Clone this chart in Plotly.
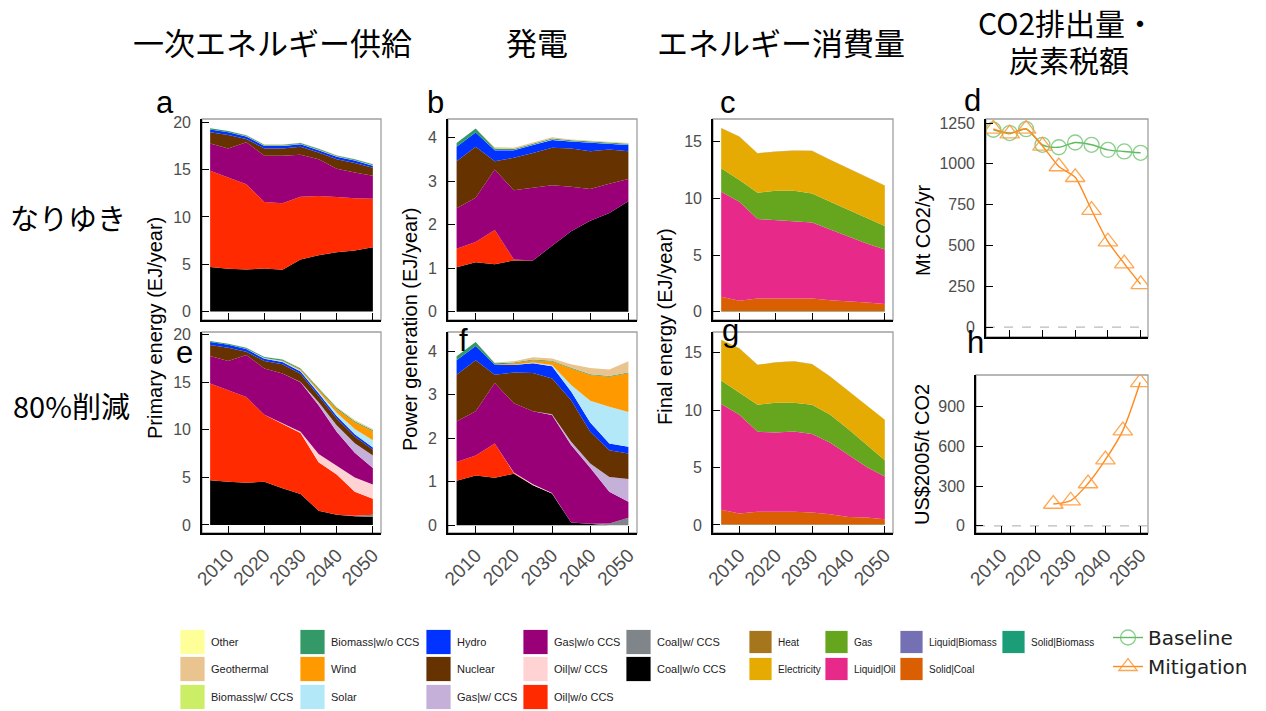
import plotly.graph_objects as go

W, H = 1266, 711

years = [2005, 2010, 2015, 2020, 2025, 2030, 2035, 2040, 2045, 2050]

# --- Primary energy, baseline (EJ/year) ---
a_coal_wo = [4.70, 4.53, 4.45, 4.54, 4.42, 5.49, 5.95, 6.27, 6.44, 6.80]
a_oil_wo = [10.17, 9.63, 9.00, 7.04, 7.01, 6.65, 6.26, 5.83, 5.52, 5.13]
a_gas_wo = [2.90, 3.08, 4.43, 4.88, 5.03, 4.43, 3.89, 3.00, 2.74, 2.41]
a_nuclear = [1.17, 1.41, 0.35, 0.78, 0.78, 0.85, 0.70, 1.00, 1.00, 0.86]
a_hydro = [0.30, 0.30, 0.28, 0.25, 0.25, 0.25, 0.25, 0.25, 0.25, 0.22]
a_solar = [0.00, 0.00, 0.02, 0.03, 0.03, 0.03, 0.03, 0.03, 0.03, 0.03]
a_wind = [0.00, 0.00, 0.01, 0.02, 0.02, 0.02, 0.02, 0.02, 0.02, 0.02]
a_bio_wo = [0.12, 0.12, 0.10, 0.10, 0.10, 0.10, 0.10, 0.10, 0.10, 0.10]
a_geo = [0.00, 0.00, 0.02, 0.02, 0.02, 0.02, 0.02, 0.02, 0.02, 0.02]

# --- Primary energy, 80% reduction (EJ/year) ---
e_coal_wo = [4.70, 4.53, 4.45, 4.54, 3.85, 3.25, 1.50, 1.08, 0.92, 0.85]
e_coal_w = [0.00, 0.00, 0.00, 0.00, 0.00, 0.00, 0.00, 0.00, 0.05, 0.22]
e_oil_wo = [10.17, 9.63, 9.00, 7.04, 6.80, 6.41, 5.10, 4.22, 2.53, 1.68]
e_oil_w = [0.00, 0.00, 0.00, 0.00, 0.07, 0.14, 0.85, 0.95, 1.50, 1.50]
e_gas_wo = [2.90, 3.08, 4.43, 4.88, 5.22, 5.20, 5.15, 3.55, 2.60, 1.75]
e_gas_w = [0.00, 0.00, 0.00, 0.00, 0.00, 0.05, 0.30, 0.70, 1.00, 1.30]
e_nuclear = [1.17, 1.41, 0.35, 0.78, 0.96, 0.85, 0.70, 0.70, 0.70, 0.60]
e_hydro = [0.30, 0.30, 0.28, 0.25, 0.25, 0.25, 0.25, 0.25, 0.25, 0.25]
e_solar = [0.00, 0.00, 0.02, 0.05, 0.08, 0.10, 0.20, 0.35, 0.55, 0.75]
e_wind = [0.00, 0.00, 0.01, 0.02, 0.05, 0.10, 0.20, 0.40, 0.70, 0.95]
e_bio_wo = [0.12, 0.12, 0.10, 0.10, 0.12, 0.12, 0.12, 0.12, 0.10, 0.10]
e_bio_w = [0.00, 0.00, 0.00, 0.00, 0.00, 0.00, 0.02, 0.04, 0.05, 0.05]
e_geo = [0.00, 0.00, 0.02, 0.02, 0.03, 0.03, 0.05, 0.06, 0.08, 0.10]

# --- Power generation, baseline (EJ/year) ---
b_coal_wo = [1.02, 1.14, 1.09, 1.18, 1.18, 1.52, 1.85, 2.09, 2.27, 2.54]
b_oil_wo = [0.43, 0.46, 0.79, 0.02, 0.00, 0.00, 0.00, 0.00, 0.00, 0.00]
b_gas_wo = [0.93, 1.02, 1.39, 1.59, 1.67, 1.39, 1.02, 0.73, 0.67, 0.51]
b_nuclear = [1.08, 1.17, 0.19, 0.75, 0.80, 0.86, 0.88, 0.87, 0.79, 0.64]
b_hydro = [0.33, 0.33, 0.25, 0.17, 0.18, 0.18, 0.16, 0.19, 0.13, 0.14]
b_solar = [0.00, 0.00, 0.01, 0.01, 0.01, 0.01, 0.01, 0.01, 0.01, 0.01]
b_bio_wo = [0.09, 0.09, 0.03, 0.02, 0.02, 0.02, 0.02, 0.02, 0.02, 0.02]
b_geo = [0.00, 0.00, 0.03, 0.03, 0.03, 0.03, 0.02, 0.02, 0.02, 0.02]

# --- Power generation, 80% reduction (EJ/year) ---
f_coal_wo = [1.02, 1.14, 1.09, 1.18, 0.92, 0.73, 0.06, 0.03, 0.00, 0.00]
f_coal_w = [0.00, 0.00, 0.00, 0.00, 0.00, 0.00, 0.00, 0.00, 0.04, 0.17]
f_oil_wo = [0.43, 0.46, 0.79, 0.02, 0.00, 0.00, 0.00, 0.00, 0.00, 0.00]
f_oil_w = [0.00, 0.00, 0.00, 0.01, 0.02, 0.01, 0.00, 0.00, 0.00, 0.00]
f_gas_wo = [0.93, 1.02, 1.39, 1.59, 1.68, 1.79, 1.78, 1.29, 0.73, 0.37]
f_gas_w = [0.00, 0.00, 0.00, 0.00, 0.00, 0.02, 0.08, 0.10, 0.34, 0.52]
f_nuclear = [1.08, 1.17, 0.19, 0.71, 0.88, 0.82, 0.95, 0.73, 0.61, 0.59]
f_hydro = [0.33, 0.33, 0.23, 0.17, 0.22, 0.28, 0.20, 0.21, 0.16, 0.15]
f_solar = [0.00, 0.00, 0.00, 0.01, 0.02, 0.03, 0.15, 0.50, 0.84, 0.80]
f_wind = [0.00, 0.00, 0.00, 0.03, 0.05, 0.08, 0.38, 0.59, 0.69, 0.89]
f_bio_wo = [0.09, 0.09, 0.03, 0.02, 0.02, 0.02, 0.02, 0.02, 0.02, 0.02]
f_geo = [0.00, 0.00, 0.02, 0.03, 0.05, 0.05, 0.08, 0.14, 0.15, 0.26]

# --- Final energy, baseline (EJ/year) ---
c_solid_bio = [0.05, 0.05, 0.05, 0.05, 0.05, 0.05, 0.05, 0.05, 0.05, 0.05]
c_solid_coal = [1.27, 0.92, 1.13, 1.13, 1.13, 1.13, 0.98, 0.89, 0.77, 0.63]
c_liquid_oil = [9.27, 8.73, 7.00, 6.91, 6.82, 6.70, 6.23, 5.68, 5.21, 4.82]
c_gas = [2.06, 1.92, 2.32, 2.59, 2.68, 2.56, 2.44, 2.35, 2.21, 2.06]
c_elec = [3.53, 3.82, 3.47, 3.44, 3.52, 3.74, 3.68, 3.68, 3.61, 3.56]
c_heat = [0.02, 0.02, 0.02, 0.02, 0.02, 0.02, 0.02, 0.02, 0.02, 0.02]

# --- Final energy, 80% reduction (EJ/year) ---
g_solid_bio = [0.05, 0.05, 0.05, 0.05, 0.05, 0.05, 0.05, 0.05, 0.05, 0.05]
g_solid_coal = [1.27, 0.95, 1.09, 1.12, 1.09, 1.03, 0.89, 0.65, 0.60, 0.45]
g_liquid_oil = [9.21, 8.59, 6.98, 6.88, 7.00, 6.84, 6.22, 5.37, 4.39, 3.72]
g_gas = [2.05, 1.96, 2.35, 2.58, 2.50, 2.55, 2.43, 2.26, 1.91, 1.41]
g_elec = [3.52, 3.82, 3.46, 3.51, 3.60, 3.52, 3.31, 3.31, 3.43, 3.52]
g_heat = [0.02, 0.02, 0.02, 0.02, 0.02, 0.02, 0.02, 0.02, 0.02, 0.02]

# --- CO2 emissions (Mt CO2/yr) and carbon price (US$2005/t CO2) ---
co2_baseline = [1209, 1189, 1213, 1117, 1102, 1131, 1117, 1086, 1076, 1068]
co2_mitigation = [1215, 1185, 1215, 1110, 984, 918, 717, 523, 389, 262]
tax_years = [2025, 2030, 2035, 2040, 2045, 2050]
carbon_tax = [165, 190, 320, 500, 720, 1085]

colors = {
    "Other": "#FFFF99", "Geothermal": "#EAC48F", "Biomass|w/ CCS": "#CCEE66",
    "Biomass|w/o CCS": "#339966", "Wind": "#FF9900", "Solar": "#B3E8F8",
    "Hydro": "#0033FF", "Nuclear": "#663300", "Gas|w/ CCS": "#C5B0DA",
    "Gas|w/o CCS": "#990077", "Oil|w/ CCS": "#FFD3D3", "Oil|w/o CCS": "#FF2A00",
    "Coal|w/ CCS": "#808589", "Coal|w/o CCS": "#000000",
    "Heat": "#A6761D", "Electricity": "#E6AB02", "Gas": "#66A61E",
    "Liquid|Biomass": "#7570B3", "Liquid|Oil": "#E7298A", "Solid|Coal": "#D95F02",
    "Solid|Biomass": "#1B9E77",
}

# stacked series per panel, bottom to top
stacks = {
    1: [("Coal|w/o CCS", a_coal_wo), ("Oil|w/o CCS", a_oil_wo), ("Gas|w/o CCS", a_gas_wo),
        ("Nuclear", a_nuclear), ("Hydro", a_hydro), ("Solar", a_solar), ("Wind", a_wind),
        ("Biomass|w/o CCS", a_bio_wo), ("Geothermal", a_geo)],
    2: [("Coal|w/o CCS", b_coal_wo), ("Oil|w/o CCS", b_oil_wo), ("Gas|w/o CCS", b_gas_wo),
        ("Nuclear", b_nuclear), ("Hydro", b_hydro), ("Solar", b_solar),
        ("Biomass|w/o CCS", b_bio_wo), ("Geothermal", b_geo)],
    3: [("Solid|Biomass", c_solid_bio), ("Solid|Coal", c_solid_coal), ("Liquid|Oil", c_liquid_oil),
        ("Gas", c_gas), ("Electricity", c_elec), ("Heat", c_heat)],
    5: [("Coal|w/o CCS", e_coal_wo), ("Coal|w/ CCS", e_coal_w), ("Oil|w/o CCS", e_oil_wo),
        ("Oil|w/ CCS", e_oil_w), ("Gas|w/o CCS", e_gas_wo), ("Gas|w/ CCS", e_gas_w),
        ("Nuclear", e_nuclear), ("Hydro", e_hydro), ("Solar", e_solar), ("Wind", e_wind),
        ("Biomass|w/o CCS", e_bio_wo), ("Biomass|w/ CCS", e_bio_w), ("Geothermal", e_geo)],
    6: [("Coal|w/o CCS", f_coal_wo), ("Coal|w/ CCS", f_coal_w), ("Oil|w/o CCS", f_oil_wo),
        ("Oil|w/ CCS", f_oil_w), ("Gas|w/o CCS", f_gas_wo), ("Gas|w/ CCS", f_gas_w),
        ("Nuclear", f_nuclear), ("Hydro", f_hydro), ("Solar", f_solar), ("Wind", f_wind),
        ("Biomass|w/o CCS", f_bio_wo), ("Geothermal", f_geo)],
    7: [("Solid|Biomass", g_solid_bio), ("Solid|Coal", g_solid_coal), ("Liquid|Oil", g_liquid_oil),
        ("Gas", g_gas), ("Electricity", g_elec), ("Heat", g_heat)],
}


def fx(px):
    return px / W


def fy(py):
    return 1 - py / H


# panel boxes in pixels: (left, right, top, bottom), y range, y ticks, x labels shown
panels = {
    1: ((202, 381, 119, 320), [-0.9, 20.35], [0, 5, 10, 15, 20], False),
    2: ((448, 637, 119, 320), [-0.19, 4.43], [0, 1, 2, 3, 4], False),
    3: ((713, 893, 119, 320), [-0.72, 17.0], [0, 5, 10, 15], False),
    4: ((986, 1148, 119, 337), [-61, 1275], [0, 250, 500, 750, 1000, 1250], False),
    5: ((202, 381, 332, 533), [-0.85, 20.3], [0, 5, 10, 15, 20], True),
    6: ((448, 637, 332, 533), [-0.18, 4.44], [0, 1, 2, 3, 4], True),
    7: ((713, 893, 332, 533), [-0.7, 16.8], [0, 5, 10, 15], True),
    8: ((976, 1148, 375, 533), [-54, 1140], [0, 300, 600, 900], True),
}

fig = go.Figure()

for k, series in stacks.items():
    sfx = "" if k == 1 else str(k)
    for name, vals in series:
        fig.add_trace(go.Scatter(
            x=years, y=vals, name=name, mode="lines", stackgroup=f"s{k}",
            line=dict(width=0, color=colors[name]), fillcolor=colors[name],
            xaxis="x" + sfx, yaxis="y" + sfx, showlegend=False, hoverinfo="skip"))

BASE_GREEN = "#5DBB5D"
MIT_ORANGE = "#FF8A1C"

fig.add_trace(go.Scatter(
    x=years, y=co2_baseline, name="Baseline", mode="lines+markers",
    line=dict(color=BASE_GREEN, width=1.4, shape="spline", smoothing=0.8),
    marker=dict(symbol="circle-open", size=15, color="rgba(110,195,110,0.8)", line=dict(width=1.3)),
    xaxis="x4", yaxis="y4", showlegend=True, hoverinfo="skip"))
fig.add_trace(go.Scatter(
    x=years, y=co2_mitigation, name="Mitigation", mode="lines+markers",
    line=dict(color=MIT_ORANGE, width=1.4, shape="spline", smoothing=0.6),
    marker=dict(symbol="triangle-up-open", size=17, color="rgba(255,150,50,0.85)", line=dict(width=1.3)),
    xaxis="x4", yaxis="y4", showlegend=True, hoverinfo="skip"))
fig.add_trace(go.Scatter(
    x=tax_years, y=carbon_tax, name="Mitigation", mode="lines+markers",
    line=dict(color=MIT_ORANGE, width=1.4, shape="spline", smoothing=0.8),
    marker=dict(symbol="triangle-up-open", size=17, color="rgba(255,150,50,0.85)", line=dict(width=1.3)),
    xaxis="x8", yaxis="y8", showlegend=False, hoverinfo="skip"))

YTICK_FONT = dict(family="Liberation Sans, Arial, sans-serif", size=16, color="#4D4D4D")
XTICK_FONT = dict(family="Liberation Sans, Arial, sans-serif", size=19, color="#4D4D4D")
layout = dict(
    width=W, height=H, margin=dict(l=0, r=0, t=0, b=0, autoexpand=False),
    paper_bgcolor="white", plot_bgcolor="white", showlegend=True,
    legend=dict(x=fx(1108), y=fy(618), xanchor="left", yanchor="top", traceorder="normal",
                font=dict(family="DejaVu Sans, sans-serif", size=20, color="#222"),
                bgcolor="rgba(0,0,0,0)", itemwidth=30, tracegroupgap=0),
)

shapes = []
for k, ((l, r, t, b), yr, yt, xlab) in panels.items():
    sfx = "" if k == 1 else str(k)
    layout["xaxis" + sfx] = dict(
        domain=[fx(l), fx(r)], anchor="y" + sfx, range=[2002.75, 2052.25], automargin=False,
        tickvals=[2010, 2020, 2030, 2040, 2050], showticklabels=xlab, tickangle=-45,
        ticks="inside", ticklen=7, tickwidth=1.3, tickcolor="black",
        showline=True, linecolor="black", linewidth=1.6, showgrid=False, zeroline=False,
        tickfont=XTICK_FONT, ticklabelstandoff=2)
    layout["yaxis" + sfx] = dict(
        domain=[fy(b), fy(t)], anchor="x" + sfx, range=yr, tickvals=yt, automargin=False,
        ticks="inside", ticklen=7, tickwidth=1.3, tickcolor="black",
        showline=True, linecolor="black", linewidth=1.6, showgrid=False, zeroline=False,
        tickfont=YTICK_FONT, ticklabelstandoff=6)
    shapes.append(dict(type="rect", xref=f"x{sfx} domain", yref=f"y{sfx} domain",
                       x0=0, x1=1, y0=0, y1=1, line=dict(color="#A0A0A0", width=1.3),
                       layer="below"))

for k in (4, 8):
    shapes.append(dict(type="line", xref=f"x{k} domain", yref=f"y{k}", x0=0, x1=1, y0=0, y1=0,
                       line=dict(color="#BBBBBB", width=1.3, dash="dash"), layer="below"))

annotations = []


def text(x, y, s, size, family, color="black", angle=0, xanchor="center", yanchor="middle"):
    annotations.append(dict(x=fx(x), y=fy(y), xref="paper", yref="paper", text=s,
                            showarrow=False, textangle=angle, xanchor=xanchor, yanchor=yanchor,
                            font=dict(size=size, family=family, color=color)))


JP = "Noto Sans CJK JP, sans-serif"
LAT = "Liberation Sans, Arial, sans-serif"

# column and row headings
text(272, 41, "一次エネルギー供給", 31, JP)
text(537, 41, "発電", 31, JP)
text(781, 41, "エネルギー消費量", 31, JP)
text(1066, 22, "CO2排出量・", 30, JP)
text(1069, 59, "炭素税額", 30, JP)
text(68, 217, "なりゆき", 29, JP)
text(71, 405, "80%削減", 29, JP)

# panel letters
for s, x, y in [("a", 165, 102), ("b", 435, 102), ("c", 728, 103), ("d", 972, 100),
                ("e", 184, 352), ("f", 463, 340), ("g", 731, 330), ("h", 975, 342)]:
    text(x, y, s, 31, LAT)

# axis titles
text(155, 328, "Primary energy (EJ/year)", 20, LAT, angle=-90)
text(410, 330, "Power generation (EJ/year)", 20, LAT, angle=-90)
text(665, 327, "Final energy (EJ/year)", 20, LAT, angle=-90)
text(923, 231, "Mt CO2/yr", 20, LAT, angle=-90)
text(922, 455, "US$2005/t CO2", 20, LAT, angle=-90)

# colour key for the stacked areas
key_columns = [
    (180, ["Other", "Geothermal", "Biomass|w/ CCS"]),
    (300, ["Biomass|w/o CCS", "Wind", "Solar"]),
    (426, ["Hydro", "Nuclear", "Gas|w/ CCS"]),
    (523, ["Gas|w/o CCS", "Oil|w/ CCS", "Oil|w/o CCS"]),
    (626, ["Coal|w/ CCS", "Coal|w/o CCS"]),
    (749, ["Heat", "Electricity"]),
    (825, ["Gas", "Liquid|Oil"]),
    (900, ["Liquid|Biomass", "Solid|Coal"]),
    (1002, ["Solid|Biomass"]),
]
row_y = [642, 669, 697]
for x0, names in key_columns:
    size = 25 if x0 < 700 else 23
    fsize = 11 if x0 < 700 else 10
    for i, name in enumerate(names):
        yc = row_y[i]
        shapes.append(dict(type="rect", xref="paper", yref="paper",
                           x0=fx(x0), x1=fx(x0 + size), y0=fy(yc + size / 2), y1=fy(yc - size / 2),
                           fillcolor=colors[name], line=dict(color="white", width=0.8)))
        text(x0 + size + 4, yc, name, fsize, LAT, color="#222", xanchor="left")

layout["shapes"] = shapes
layout["annotations"] = annotations
fig.update_layout(**layout)

fig.write_html("out.html")
